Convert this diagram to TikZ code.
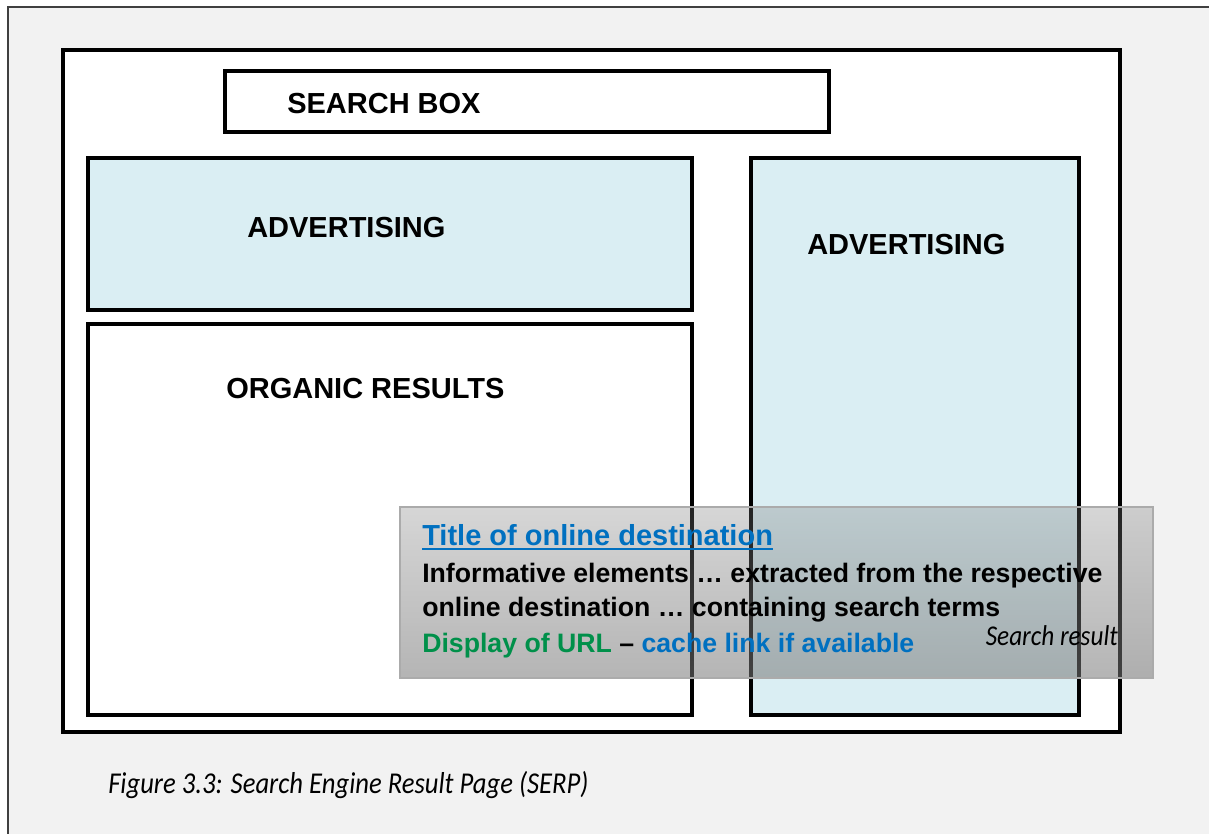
\documentclass[tikz,border=0pt]{standalone}
\usepackage{fontspec}
\setmainfont{Liberation Sans}
\newfontfamily\capfont[FakeStretch=0.88]{Carlito}
\usetikzlibrary{fadings}
\definecolor{serpgrey}{HTML}{F2F2F2}
\definecolor{serpframe}{HTML}{404040}
\definecolor{adblue}{HTML}{DAEEF3}
\definecolor{linkblue}{HTML}{0070C0}
\definecolor{urlgreen}{HTML}{00904A}
\definecolor{resultgrey}{HTML}{787878}
\definecolor{resultedge}{HTML}{ABABAB}
\tikzfading[name=resultfade, top color=transparent!70, bottom color=transparent!45]

\begin{document}
\begin{tikzpicture}[x=0.75pt, y=-0.75pt,
    panel/.style={draw=black, line width=2.9pt},
    boxtext/.style={anchor=base west, inner sep=0pt, font=\fontsize{21.75}{26}\selectfont\bfseries},
    snippet/.style={anchor=base west, inner sep=0pt, font=\fontsize{20}{24}\selectfont\bfseries}]
    \useasboundingbox (0,0) rectangle (1209,834);
    %% --- page ---
    \fill[white] (0,0) rectangle (1209,834);
    \fill[serpgrey] (8,7) rectangle (1240,870);
    \draw[serpframe, line width=1.1pt] (8,870) -- (8,7) -- (1240,7);
    \draw[panel, fill=white] (63,50) rectangle (1120,732);
    %% --- search box ---
    \draw[panel, line width=2.5pt] (225,71) rectangle (829,132);
    \node[boxtext] (searchbox) at (287,114) {SEARCH BOX};
    %% --- advertising areas (top and side) ---
    \foreach \xa/\ya/\xb/\yb in {88/158/692/310, 751/158/1079/715} {
      \draw[panel, fill=adblue] (\xa,\ya) rectangle (\xb,\yb);
    }
    \node[boxtext] (adtop) at (247,238) {ADVERTISING};
    \node[boxtext] (adside) at (807,254) {ADVERTISING};
    %% --- organic results ---
    \draw[panel, fill=white] (88,324) rectangle (692,715);
    \node[boxtext] (organic) at (226,398) {ORGANIC RESULTS};
    %% --- one search result, laid over the page ---
    \fill[resultgrey, path fading=resultfade] (400,507) rectangle (1153,678);
    \draw[resultedge, line width=1.5pt] (400,507) rectangle (1153,678);
    \node[snippet, font=\fontsize{21.75}{26}\selectfont\bfseries, text=linkblue] (title) at (422,545)
      {Title of online destination};
    \draw[linkblue, line width=1.5pt] ([yshift=-3.3pt]title.base west) -- ([yshift=-3.3pt]title.base east);
    \node[snippet] (info1) at (422,582) {Informative elements … extracted from the respective};
    \node[snippet] (info2) at (422,616) {online destination … containing search terms};
    \node[snippet] (url) at (422,652)
      {\textcolor{urlgreen}{Display of URL} – \textcolor{linkblue}{cache link if available}};
    \node[anchor=base east, inner sep=0pt, font=\capfont\itshape\fontsize{21.5}{25}\selectfont]
      (resultnote) at (1118,645) {Search result};
    %% --- caption ---
    \node[anchor=base west, inner sep=0pt, font=\capfont\itshape\fontsize{22.7}{27}\selectfont]
      (caption) at (108,793) {Figure 3.3: Search Engine Result Page (SERP)};
\end{tikzpicture}
\end{document}
